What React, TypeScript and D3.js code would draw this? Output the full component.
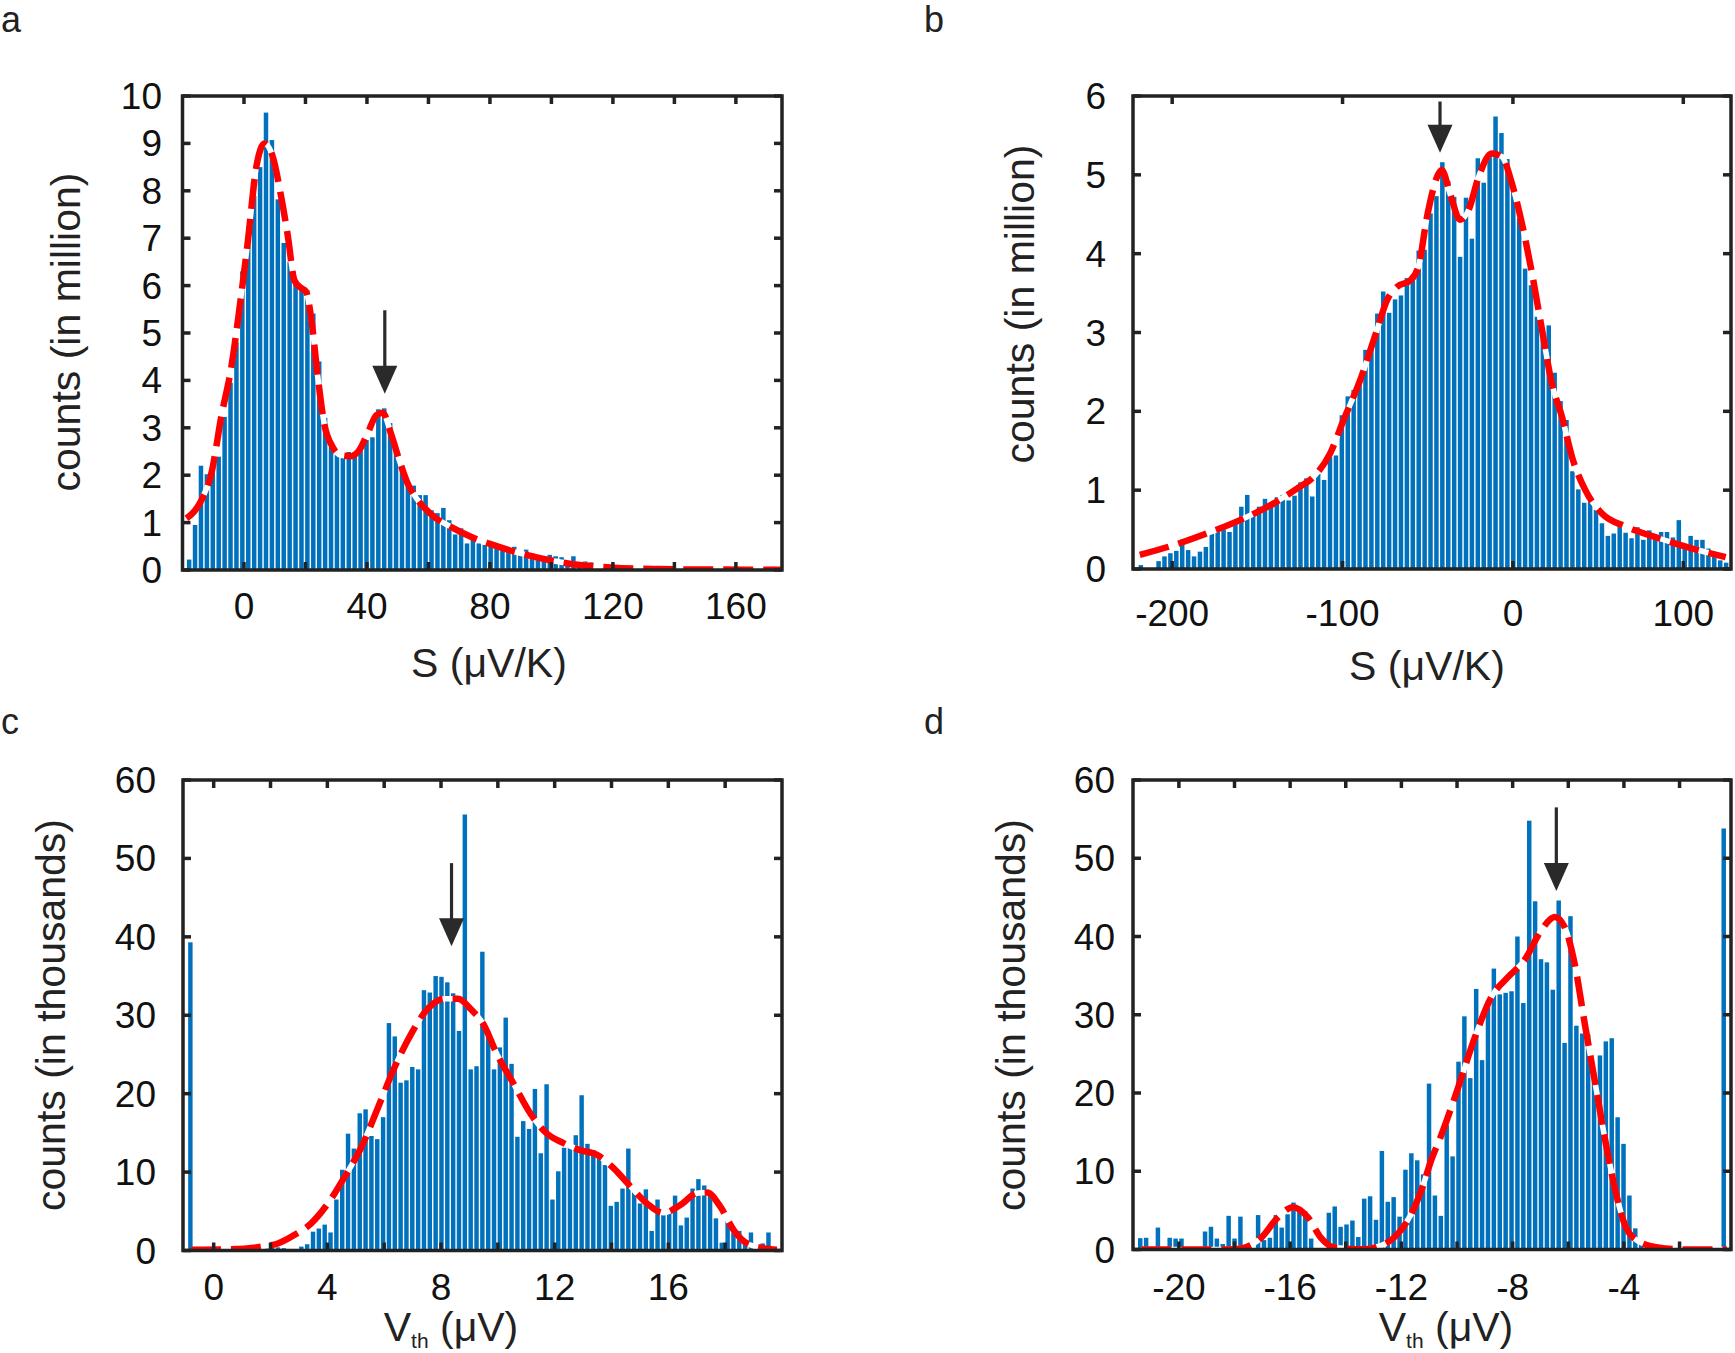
import React from 'react';
import * as d3 from 'd3';

// ---------- Panel a data (S, counts in million) ----------
const aBinCenter0 = -17.84;
const aBinWidth = 1.923;
const aCounts = [
  0.22, 0.95, 2.2, 2.02, 2.23, 2.39, 3.23, 3.95, 4.8, 6.3,
  7.1, 7.89, 8.5, 9.65, 9.07, 7.82, 6.9, 6.5, 6.11, 6.0,
  5.9, 5.41, 4.4, 3.21, 2.6, 2.44, 2.39, 2.49, 2.49, 2.56,
  2.74, 2.8, 3.39, 3.41, 3.1, 2.6, 2.1, 1.88, 1.78, 1.58,
  1.58, 1.26, 1.2, 1.31, 1.05, 0.75, 0.88, 0.56, 0.69, 0.56,
  0.53, 0.5, 0.45, 0.41, 0.43, 0.49, 0.36, 0.43, 0.35, 0.22,
  0.2, 0.32, 0.29, 0.27, 0.1, 0.29, 0.16, 0.18, 0.16, 0.08,
  0.06, 0.05, 0.06, 0.06, 0.04, 0.03, 0.03, 0.02, 0.05, 0.03,
  0.02, 0.07, 0.02, 0.02, 0.01, 0.02, 0.01, 0.01, 0.05, 0.01,
  0.01, 0.02, 0.01, 0.01, 0.01, 0.01, 0.01, 0.01, 0.0, 0.01,
];
const aFit: [number, number][] = [
  [-18.7, 1.09], [-16, 1.25], [-13.8, 1.48], [-10.6, 2.04], [-7.4, 3.23], [-4.1, 4.29],
  [-1.4, 5.55], [1.3, 6.96], [4.0, 8.5], [6.7, 9.0], [9.4, 8.71], [12.1, 7.87],
  [14.3, 7.03], [16.4, 6.11], [18.5, 5.95], [20.2, 5.87], [21.8, 5.34], [24.0, 4.08],
  [26.1, 3.09], [28.8, 2.6], [31.5, 2.42], [34.8, 2.4], [37.5, 2.53], [40.2, 2.88],
  [43.1, 3.27], [45.1, 3.32], [47.8, 2.88], [50.5, 2.32], [53.2, 1.83], [56.5, 1.48],
  [61.9, 1.12], [67.3, 0.91], [73.8, 0.7], [80, 0.55], [90, 0.35], [100, 0.2],
  [110, 0.1], [120, 0.05], [135, 0.02], [150, 0.01], [175, 0.005],
];
const aArrow = { x: 45.8, top: 5.48, tip: 3.72 };
const aXTicks = [0, 20, 40, 60, 80, 100, 120, 140, 160];
const aXTickLabels = [0, 40, 80, 120, 160];
const aYTicks = [0, 1, 2, 3, 4, 5, 6, 7, 8, 9, 10];

// ---------- Panel b data ----------
const bBinCenter0 = -218.4;
const bBinWidth = 3.47;
const bCounts = [
  0.05, 0, 0, 0.1, 0.16, 0.2, 0.23, 0.37, 0.24, 0.16,
  0.22, 0.28, 0.5, 0.53, 0.56, 0.47, 0.58, 0.79, 0.94, 0.7,
  0.79, 0.89, 0.79, 0.91, 0.94, 0.87, 0.93, 1.1, 1.15, 0.92,
  1.21, 1.13, 1.42, 1.44, 1.95, 2.19, 2.27, 2.4, 2.78, 2.85,
  3.24, 3.52, 3.25, 3.42, 3.47, 3.69, 3.66, 4.04, 4.05, 4.51,
  4.73, 5.16, 4.92, 4.72, 3.96, 4.71, 4.19, 5.21, 4.9, 5.27,
  5.74, 5.53, 5.2, 4.78, 4.45, 3.81, 3.6, 3.2, 2.95, 3.09,
  2.49, 2.13, 1.89, 1.24, 1.01, 0.84, 0.85, 0.75, 0.58, 0.42,
  0.45, 0.56, 0.46, 0.39, 0.53, 0.37, 0.49, 0.42, 0.47, 0.47,
  0.4, 0.62, 0.3, 0.42, 0.37, 0.37, 0.26, 0.2, 0.11, 0.08,
];
const bFit: [number, number][] = [
  [-219, 0.18], [-199.4, 0.3], [-179.8, 0.45], [-160.2, 0.62], [-140.6, 0.83],
  [-126.8, 1.02], [-117, 1.17], [-107.2, 1.47], [-99.4, 1.89], [-89.6, 2.4],
  [-79.8, 3.03], [-73.9, 3.41], [-68, 3.58], [-60.2, 3.66], [-55.3, 3.85],
  [-50.4, 4.47], [-43.5, 5.02], [-41.8, 5.06], [-36.9, 4.76], [-31, 4.43],
  [-26.1, 4.55], [-20.2, 4.97], [-12.4, 5.27], [-6.5, 5.23], [-0.6, 4.89],
  [5.3, 4.38], [11.2, 3.75], [17.1, 3.03], [22.9, 2.35], [28.8, 1.93],
  [34.7, 1.42], [42.5, 1.0], [52.4, 0.7], [66, 0.54], [85.6, 0.39],
  [105.3, 0.26], [124.9, 0.15],
];
const bArrow = { x: -42.8, top: 5.93, tip: 5.28 };
const bXTicks = [-200, -100, 0, 100];
const bXTickLabels = [-200, -100, 0, 100];
const bYTicks = [0, 1, 2, 3, 4, 5, 6];

// ---------- Panel c data (Vth, counts in thousands) ----------
const cBinCenter0 = -0.82;
const cBinWidth = 0.2055;
const cCounts = [
  39.3, 0, 0, 0.1, 0.1, 0.1, 0.2, 0.1, 0.2, 0.3,
  0.2, 0.4, 0.3, 0.6, 0.4, 0.4, 0.3, 0.2, 0.2, 0.5,
  0.8, 2.4, 2.8, 3.3, 2.3, 6.5, 10.3, 14.9, 13.0, 17.5,
  18.0, 14.6, 14.2, 17.0, 29.0, 27.3, 21.4, 21.7, 23.4, 23.1,
  33.2, 32.9, 35.0, 34.9, 34.2, 32.8, 28.0, 55.6, 23.1, 23.5,
  38.1, 28.0, 23.1, 25.9, 29.7, 23.8, 14.5, 16.5, 15.5, 20.6,
  12.4, 21.2, 6.5, 10.1, 13.1, 13.2, 14.7, 19.8, 13.6, 12.8,
  11.8, 10.9, 5.7, 6.2, 7.9, 13.0, 7.5, 6.0, 7.8, 2.5,
  6.5, 4.8, 5.3, 7.0, 3.2, 4.2, 7.9, 9.1, 8.3, 7.3,
  4.1, 1.0, 3.8, 2.3, 2.5, 1.1, 2.3, 0.1, 0.9, 2.3,
];
const cFit: [number, number][] = [
  [-0.8, 0.1], [0.5, 0.15], [1.7, 0.5], [2.26, 0.9], [2.85, 2.0], [3.44, 3.5],
  [4.02, 6.0], [4.61, 9.4], [5.2, 13.2], [5.79, 18.3], [6.37, 23.4], [6.96, 27.7],
  [7.55, 30.9], [8.13, 32.1], [8.6, 32.1], [9.07, 30.7], [9.5, 28.8], [9.96, 25.1],
  [10.55, 21.3], [11.14, 17.5], [11.73, 14.9], [12.31, 13.7], [12.9, 12.8],
  [13.49, 12.2], [14.07, 10.5], [14.66, 8.2], [15.25, 6.0], [15.83, 4.8],
  [16.42, 5.8], [17.0, 7.3], [17.36, 7.4], [17.83, 5.6], [18.3, 2.6],
  [18.77, 0.9], [19.35, 0.3], [19.82, 0.1],
];
const cArrow = { x: 8.37, top: 49.4, tip: 38.8 };
const cXTicks = [0, 2, 4, 6, 8, 10, 12, 14, 16, 18];
const cXTickLabels = [0, 4, 8, 12, 16];
const cYTicks = [0, 10, 20, 30, 40, 50, 60];

// ---------- Panel d data ----------
const dBinCenter0 = -21.39;
const dBinWidth = 0.2119;
const dCounts = [
  1.45, 1.5, 0, 2.8, 0, 1.5, 1.4, 1.4, 0, 0,
  0, 2.3, 2.9, 1.4, 0.7, 4.3, 1.4, 4.2, 0, 0,
  4.4, 1.2, 1.5, 4.4, 2.8, 4.5, 6.0, 5.3, 4.9, 1.4,
  0, 0, 4.7, 5.5, 2.9, 3.2, 3.7, 1.6, 6.5, 6.8,
  3.8, 12.6, 6.1, 6.7, 4.2, 10.2, 12.3, 11.4, 9.6, 21.2,
  6.9, 4.3, 15.9, 11.9, 24.0, 29.8, 21.9, 33.3, 24.2, 31.8,
  35.9, 32.6, 32.8, 33.0, 40.0, 31.5, 54.8, 44.5, 37.1, 36.7,
  33.2, 44.6, 26.4, 42.6, 28.6, 27.6, 27.5, 22.6, 24.8, 26.6,
  27.0, 16.9, 13.5, 6.9, 2.7, 1.1, 0.9, 0.2, 0.1, 0.1,
  0, 0, 0, 0, 0, 0, 0, 0, 0, 53.8,
];
const dFit: [number, number][] = [
  [-21.35, 0], [-18.24, 0], [-17.64, 0.25], [-17.04, 1.5], [-16.44, 4.1],
  [-15.9, 5.4], [-15.36, 4.1], [-14.89, 1.5], [-14.4, 0.25], [-13.45, 0.02],
  [-12.73, 0.5], [-12.13, 2.0], [-11.65, 4.5], [-11.25, 7.9], [-10.93, 11.4],
  [-10.6, 14.3], [-9.96, 20.7], [-9.36, 27.1], [-8.76, 32.3], [-8.17, 34.8],
  [-7.57, 37.0], [-6.97, 40.8], [-6.49, 42.5], [-6.13, 41.2], [-5.77, 36.5],
  [-5.41, 28.9], [-5.05, 21.6], [-4.69, 14.3], [-4.33, 7.9], [-3.97, 3.2],
  [-3.5, 1.1], [-2.78, 0.26], [-1.82, 0], [-0.3, 0],
];
const dArrow = { x: -6.43, top: 56.5, tip: 45.8 };
const dXTicks = [-20, -18, -16, -14, -12, -10, -8, -6, -4, -2];
const dXTickLabels = [-20, -16, -12, -8, -4];
const dYTicks = [0, 10, 20, 30, 40, 50, 60];

const FONT = '"Liberation Sans", Arial, Helvetica, sans-serif';
const AXIS = '#222222';
const BAR = '#0072BD';

type Box = { x0: number; x1: number; y0: number; y1: number };

function Panel(props: {
  box: Box;
  xDomain: [number, number];
  yDomain: [number, number];
  binCenter0: number;
  binWidth: number;
  counts: number[];
  fit: [number, number][];
  arrow: { x: number; top: number; tip: number };
  xTicks: number[];
  xTickLabels: number[];
  yTicks: number[];
  yLabelRight: number;
  xLabelBaseline: number;
  yTitle: string;
  yTitleX: number;
  yTitleY: number;
  xTitle: React.ReactNode;
  xTitleX: number;
  xTitleY: number;
  letter: string;
  letterX: number;
  letterY: number;
}) {
  const p = props;
  const x = d3.scaleLinear().domain(p.xDomain).range([p.box.x0, p.box.x1]);
  const y = d3.scaleLinear().domain(p.yDomain).range([p.box.y1, p.box.y0]);
  const pitch = Math.abs(x(p.binWidth) - x(0));
  const barW = pitch * 0.76;
  const line = d3
    .line<[number, number]>()
    .x((d) => x(d[0]))
    .y((d) => y(d[1]))
    .curve(d3.curveMonotoneX);
  const path = line(p.fit) || '';
  const tickLen = 8;
  const ax = x(p.arrow.x);
  const aTop = y(p.arrow.top);
  const aTip = y(p.arrow.tip);
  const headH = 28;
  const headW = 12.5;
  const clipId = 'clip-' + p.letter;
  return (
    <g>
      <defs>
        <clipPath id={clipId}>
          <rect x={p.box.x0} y={p.box.y0 - 2} width={p.box.x1 - p.box.x0} height={p.box.y1 - p.box.y0 + 2} />
        </clipPath>
      </defs>
      <g clipPath={`url(#${clipId})`}>
        {p.counts.map((c, i) => {
          const cx = x(p.binCenter0 + i * p.binWidth);
          const top = y(c);
          return (
            <rect
              key={i}
              x={cx - barW / 2}
              y={top}
              width={barW}
              height={Math.max(0, p.box.y1 - top)}
              fill={BAR}
            />
          );
        })}
        <path d={path} fill="none" stroke="#ffffff" strokeWidth={5.5} />
        <path d={path} fill="none" stroke="#ff0000" strokeWidth={6.5} strokeDasharray="30 10" />
      </g>
      {/* arrow */}
      <line x1={ax} x2={ax} y1={aTop} y2={aTip - headH + 2} stroke="#2a2a2a" strokeWidth={3.2} />
      <polygon
        points={`${ax - headW},${aTip - headH} ${ax + headW},${aTip - headH} ${ax},${aTip}`}
        fill="#2a2a2a"
      />
      {/* ticks */}
      {p.xTicks.map((t) => (
        <g key={'xt' + t}>
          <line x1={x(t)} x2={x(t)} y1={p.box.y1} y2={p.box.y1 - tickLen} stroke={AXIS} strokeWidth={3.5} />
          <line x1={x(t)} x2={x(t)} y1={p.box.y0} y2={p.box.y0 + tickLen} stroke={AXIS} strokeWidth={3.5} />
        </g>
      ))}
      {p.yTicks.map((t) => (
        <g key={'yt' + t}>
          <line x1={p.box.x0} x2={p.box.x0 + tickLen} y1={y(t)} y2={y(t)} stroke={AXIS} strokeWidth={3.5} />
          <line x1={p.box.x1} x2={p.box.x1 - tickLen} y1={y(t)} y2={y(t)} stroke={AXIS} strokeWidth={3.5} />
        </g>
      ))}
      <rect
        x={p.box.x0}
        y={p.box.y0}
        width={p.box.x1 - p.box.x0}
        height={p.box.y1 - p.box.y0}
        fill="none"
        stroke={AXIS}
        strokeWidth={3.5}
      />
      {/* tick labels */}
      {p.xTickLabels.map((t) => (
        <text
          key={'xl' + t}
          x={x(t)}
          y={p.xLabelBaseline}
          textAnchor="middle"
          fontFamily={FONT}
          fontSize={37}
          fill="#111"
        >
          {String(t)}
        </text>
      ))}
      {p.yTicks.map((t) => (
        <text
          key={'yl' + t}
          x={p.yLabelRight}
          y={y(t) + 13}
          textAnchor="end"
          fontFamily={FONT}
          fontSize={37}
          fill="#111"
        >
          {String(t)}
        </text>
      ))}
      {/* titles */}
      <text
        transform={`translate(${p.yTitleX},${p.yTitleY}) rotate(-90)`}
        textAnchor="middle"
        fontFamily={FONT}
        fontSize={41}
        fill="#222"
      >
        {p.yTitle}
      </text>
      <text x={p.xTitleX} y={p.xTitleY} textAnchor="middle" fontFamily={FONT} fontSize={41} fill="#222">
        {p.xTitle}
      </text>
      <text x={p.letterX} y={p.letterY} fontFamily={FONT} fontSize={36} fill="#222">
        {p.letter}
      </text>
    </g>
  );
}

const vthTitle = (
  <>
    <tspan>V</tspan>
    <tspan fontSize={21} dy={7}>th</tspan>
    <tspan dy={-7}> (μV)</tspan>
  </>
);

export default function App() {
  return (
    <svg
      width={1735}
      height={1353}
      viewBox="0 0 1735 1353"
      style={{ position: 'absolute', left: 0, top: 0, background: '#fff' }}
    >
      <rect x={0} y={0} width={1735} height={1353} fill="#fff" />
      <Panel
        box={{ x0: 182.5, x1: 782, y0: 96, y1: 570 }}
        xDomain={[-20, 175]}
        yDomain={[0, 10]}
        binCenter0={aBinCenter0}
        binWidth={aBinWidth}
        counts={aCounts}
        fit={aFit}
        arrow={aArrow}
        xTicks={aXTicks}
        xTickLabels={aXTickLabels}
        yTicks={aYTicks}
        yLabelRight={162}
        xLabelBaseline={619}
        yTitle="counts (in million)"
        yTitleX={80}
        yTitleY={332}
        xTitle="S (μV/K)"
        xTitleX={489}
        xTitleY={677}
        letter="a"
        letterX={1}
        letterY={32}
      />
      <Panel
        box={{ x0: 1133, x1: 1731, y0: 96, y1: 569 }}
        xDomain={[-223, 128]}
        yDomain={[0, 6]}
        binCenter0={bBinCenter0}
        binWidth={bBinWidth}
        counts={bCounts}
        fit={bFit}
        arrow={bArrow}
        xTicks={bXTicks}
        xTickLabels={bXTickLabels}
        yTicks={bYTicks}
        yLabelRight={1106}
        xLabelBaseline={626}
        yTitle="counts (in million)"
        yTitleX={1034}
        yTitleY={304}
        xTitle="S (μV/K)"
        xTitleX={1427}
        xTitleY={680}
        letter="b"
        letterX={924}
        letterY={32}
      />
      <Panel
        box={{ x0: 183, x1: 782, y0: 780, y1: 1250.5 }}
        xDomain={[-1.08, 20]}
        yDomain={[0, 60]}
        binCenter0={cBinCenter0}
        binWidth={cBinWidth}
        counts={cCounts}
        fit={cFit}
        arrow={cArrow}
        xTicks={cXTicks}
        xTickLabels={cXTickLabels}
        yTicks={cYTicks}
        yLabelRight={156}
        xLabelBaseline={1300}
        yTitle="counts (in thousands)"
        yTitleX={65}
        yTitleY={1015}
        xTitle={vthTitle}
        xTitleX={451}
        xTitleY={1341}
        letter="c"
        letterX={1}
        letterY={734}
      />
      <Panel
        box={{ x0: 1133, x1: 1731, y0: 780, y1: 1249.5 }}
        xDomain={[-21.65, -0.15]}
        yDomain={[0, 60]}
        binCenter0={dBinCenter0}
        binWidth={dBinWidth}
        counts={dCounts}
        fit={dFit}
        arrow={dArrow}
        xTicks={dXTicks}
        xTickLabels={dXTickLabels}
        yTicks={dYTicks}
        yLabelRight={1115}
        xLabelBaseline={1300}
        yTitle="counts (in thousands)"
        yTitleX={1025}
        yTitleY={1015}
        xTitle={vthTitle}
        xTitleX={1446}
        xTitleY={1341}
        letter="d"
        letterX={924}
        letterY={734}
      />
    </svg>
  );
}
